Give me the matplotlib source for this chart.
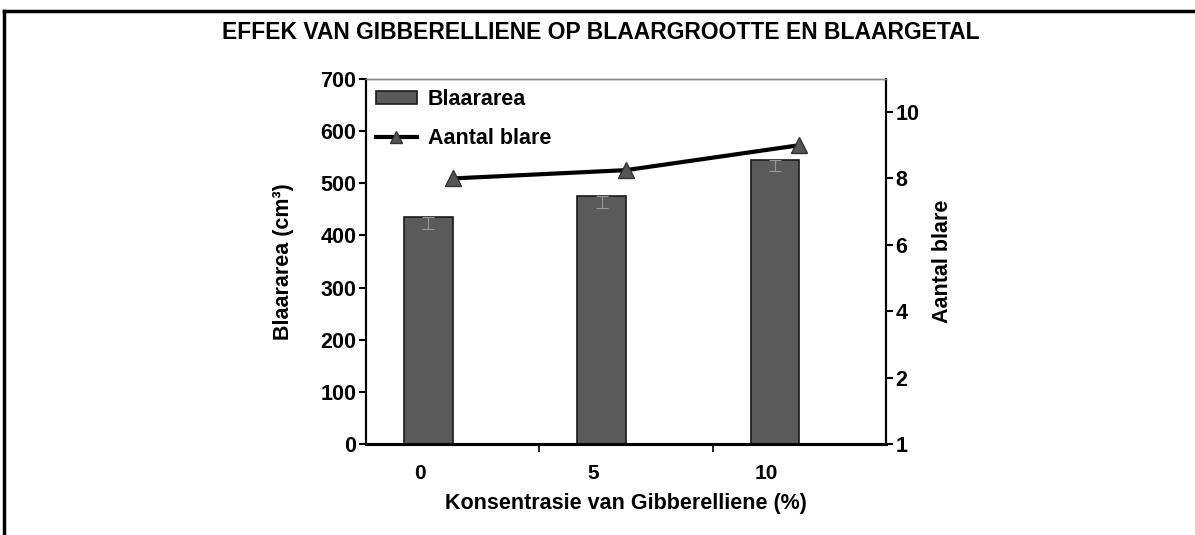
import matplotlib
matplotlib.use("Agg")
import matplotlib.pyplot as plt
from matplotlib.lines import Line2D
import numpy as np

plt.rcParams["font.family"] = ["Liberation Sans", "DejaVu Sans"]
plt.rcParams["font.weight"] = "bold"

# data
konsentrasie = ["0", "5", "10"]
blaararea = [435, 475, 545]          # cm3, left axis
blaararea_err = [22, 22, 22]          # faint error bars (lower part)
aantal_blare = [8.0, 8.25, 9.0]       # right axis
right_ticks = [0, 2, 4, 6, 8, 10]
right_ticklabels = ["1", "2", "4", "6", "8", "10"]

fig = plt.figure(figsize=(11.95, 5.35), dpi=100)
ax = fig.add_axes([0.3063, 0.1692, 0.4351, 0.6837])
ax2 = ax.twinx()

x = np.arange(len(konsentrasie))
bw = 0.28
bx = x - bw / 2
ax.bar(bx, blaararea, width=bw, color="#5a5a5a", edgecolor="#1a1a1a", linewidth=1.2,
       label="Blaararea", zorder=2)
ax.errorbar(bx, blaararea, yerr=[blaararea_err, [0] * 3], fmt="none", ecolor="#9a9a9a",
            elinewidth=0.8, capsize=4, capthick=0.8, zorder=3)

ax2.plot(x, aantal_blare, color="black", lw=3, marker="^", ms=11,
         mfc="#555555", mec="#333333", mew=1, label="Aantal blare", zorder=4)

ax.set_xlim(-0.5, 2.5)
ax.set_ylim(0, 700)
ax.set_yticks(np.arange(0, 701, 100))
ax2.set_ylim(0, 11)
ax2.set_yticks(right_ticks)
ax2.set_yticklabels(right_ticklabels)

ax.set_xticks(x - 0.19)
ax.set_xticklabels(konsentrasie)
ax.set_xticks([0.5, 1.5], minor=True)
ax.tick_params(axis="x", which="major", length=0, pad=14, labelsize=15)
ax.tick_params(axis="x", which="minor", length=6, width=1.2, direction="out")
ax.tick_params(axis="y", length=5, width=1.5, labelsize=15.5, pad=2)
ax2.tick_params(axis="y", length=5, width=1.5, labelsize=15.5, pad=2)

for a in (ax, ax2):
    a.spines["top"].set_color("#888888")
    a.spines["top"].set_linewidth(1)
    a.spines["left"].set_linewidth(1.5)
    a.spines["right"].set_linewidth(1.5)
    a.spines["bottom"].set_linewidth(2.2)

ax.set_ylabel("Blaararea (cm³)", fontsize=15.5, fontweight="bold", labelpad=19)
ax2.set_ylabel("Aantal blare", fontsize=15.5, fontweight="bold", labelpad=9)
ax.set_xlabel("Konsentrasie van Gibberelliene (%)", fontsize=15.5, fontweight="bold", labelpad=7)

fig.suptitle("EFFEK VAN GIBBERELLIENE OP BLAARGROOTTE EN BLAARGETAL", x=0.503, y=0.96,
             fontsize=16.5, fontweight="bold")

h1, l1 = ax.get_legend_handles_labels()
h2, l2 = ax2.get_legend_handles_labels()
leg = ax2.legend(h1 + h2, l1 + l2, loc="upper left", bbox_to_anchor=(-0.018, 1.025),
                 frameon=False, fontsize=15.5, handlelength=1.9, handleheight=0.55,
                 labelspacing=0.85, handletextpad=0.5, markerscale=0.75)

# page border (top and left)
fig.add_artist(Line2D([0.003, 1.0], [0.979, 0.979], transform=fig.transFigure, color="black", lw=2.5))
fig.add_artist(Line2D([0.003, 0.003], [0.0, 0.979], transform=fig.transFigure, color="black", lw=2.5))

fig.savefig("out.png", dpi=100)
